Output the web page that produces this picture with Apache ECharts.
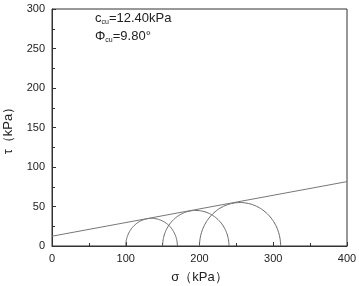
<!DOCTYPE html>
<html>
<head>
<meta charset="utf-8">
<script src="https://cdn.jsdelivr.net/npm/echarts@6/dist/echarts.min.js"></script>
<style>html,body{margin:0;padding:0;background:#fff}#main{width:359px;height:286px}</style>
</head>
<body>
<div id="main"></div>
<script>
// Mohr circles: centre and radius (kPa)
var circleCenters = [135, 195, 255];
var circleRadii = [35, 45, 55];
// strength envelope end points [sigma, tau]
var envelope = [[0, 12.4], [400, 81.5]];

var myChart = echarts.init(document.getElementById('main'));

var circleData = circleCenters.map(function (c, i) { return [c, circleRadii[i]]; });
var font = 'Liberation Sans';

var option = {
    animation: false,
    grid: { left: 52, right: 12, top: 9, bottom: 40, outerBoundsMode: 'none', containLabel: false, show: true, borderColor: '#333', borderWidth: 1 },
    xAxis: {
        type: 'value', min: 0, max: 400, interval: 100,
        name: 'σ（kPa）', nameLocation: 'middle', nameGap: 25,
        nameTextStyle: { fontFamily: font, fontSize: 13, color: '#222' },
        axisLine: { lineStyle: { color: '#333' } },
        axisTick: { inside: true, length: 4, lineStyle: { color: '#333' } },
        minorTick: { show: true, splitNumber: 2, length: 3, lineStyle: { color: '#333' } },
        axisLabel: { fontFamily: font, fontSize: 11, color: '#222', margin: 7 },
        splitLine: { show: false }
    },
    yAxis: {
        type: 'value', min: 0, max: 300, interval: 50,
        name: 'τ（kPa）', nameLocation: 'middle', nameGap: 37,
        nameTextStyle: { fontFamily: font, fontSize: 13, color: '#222' },
        axisLine: { lineStyle: { color: '#333' } },
        axisTick: { inside: true, length: 4, lineStyle: { color: '#333' } },
        minorTick: { show: true, splitNumber: 2, length: 3, lineStyle: { color: '#333' } },
        axisLabel: { fontFamily: font, fontSize: 11, color: '#222', margin: 7 },
        splitLine: { show: false }
    },
    series: [{
        type: 'custom',
        data: circleData,
        renderItem: function (params, api) {
            var c = api.value(0), r = api.value(1);
            var pts = [];
            for (var k = 0; k <= 90; k++) {
                var a = Math.PI * k / 90;
                pts.push(api.coord([c - r * Math.cos(a), r * Math.sin(a)]));
            }
            return { type: 'polyline', shape: { points: pts }, style: { stroke: '#666', lineWidth: 1, fill: null } };
        },
        silent: true
    }, {
        type: 'line',
        data: envelope,
        symbol: 'none',
        lineStyle: { color: '#777', width: 1 },
        silent: true
    }],
    graphic: [{
        type: 'text', left: 95, top: 12,
        style: {
            text: '{n|c}{s|cu}{n|=12.40kPa}',
            rich: {
                n: { fontFamily: font, fontSize: 13, fill: '#222' },
                s: { fontFamily: font, fontSize: 7, fill: '#222', padding: [8, 0, 0, 0] }
            }
        }
    }, {
        type: 'text', left: 95, top: 30,
        style: {
            text: '{n|Φ}{s|cu}{n|=9.80°}',
            rich: {
                n: { fontFamily: font, fontSize: 13, fill: '#222' },
                s: { fontFamily: font, fontSize: 7, fill: '#222', padding: [8, 0, 0, 0] }
            }
        }
    }]
};

myChart.setOption(option);
</script>
</body>
</html>
